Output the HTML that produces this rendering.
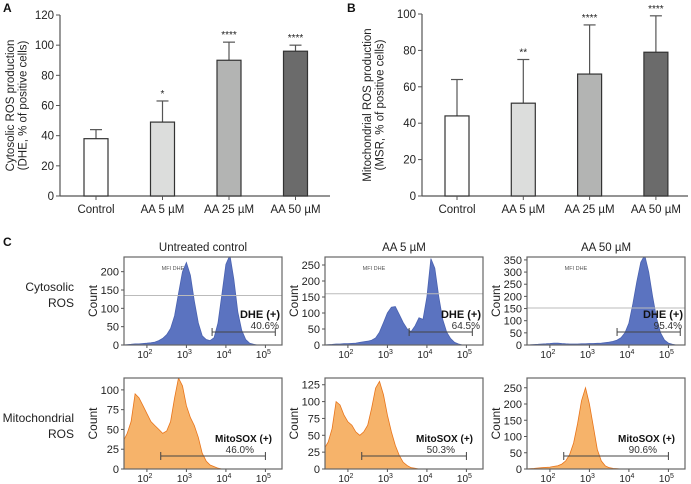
<!DOCTYPE html>
<html><head><meta charset="utf-8"><style>
body{margin:0;background:#fff;}
svg{display:block;font-family:"Liberation Sans",sans-serif;}
</style></head><body>
<svg id="fig" width="691" height="484" viewBox="0 0 691 484"></svg>
<script>
const barCategories=["Control","AA 5 \u00b5M","AA 25 \u00b5M","AA 50 \u00b5M"];
const cytoMeans=[38,49,90,96];
const cytoErr=[6,14,12,4];
const cytoStars=["","*","****","****"];
const cytoTicks=[0,20,40,60,80,100,120];
const mitoMeans=[44,51,67,79];
const mitoErr=[20,24,27,20];
const mitoStars=["","**","****","****"];
const mitoTicks=[0,20,40,60,80,100];
const histBins=[1.4,1.5,1.6,1.7,1.8,1.9,2.0,2.1,2.2,2.3,2.4,2.5,2.6,2.7,2.8,2.9,3.0,3.1,3.2,3.3,3.4,3.5,3.6,3.7,3.8,3.9,4.0,4.1,4.2,4.3,4.4,4.5,4.6,4.7,4.8,4.9,5.0,5.1,5.2,5.3,5.4];
const dheControl=[0,1,2,3,3,4,5,6,8,12,18,28,45,80,140,200,225,190,120,60,25,15,12,20,60,140,220,245,180,90,40,15,5,2,0,0,0,0,0,0,0];
const dheAA5=[0,1,2,3,3,4,4,5,6,8,10,12,15,22,40,70,100,118,120,95,70,50,42,60,85,80,150,270,240,150,80,40,20,8,3,0,0,0,0,0,0];
const dheAA50=[0,1,2,3,4,5,6,8,8,6,5,4,4,4,5,5,6,6,7,8,10,12,15,20,30,50,90,170,260,340,370,300,200,110,50,20,8,3,0,0,0];
const msrControl=[35,45,60,95,90,80,70,60,55,50,45,48,60,90,115,105,80,65,55,40,20,10,5,3,1,0,0,0,0,0,0,0,0,0,0,0,0,0,0,0,0];
const msrAA5=[30,40,60,100,95,80,70,65,55,50,55,65,90,120,130,110,80,55,35,20,10,5,2,1,0,0,0,0,0,0,0,0,0,0,0,0,0,0,0,0,0];
const msrAA50=[0,1,2,3,4,5,6,8,10,15,25,45,80,140,210,250,200,130,60,25,10,4,2,1,0,0,0,0,0,0,0,0,0,0,0,0,0,0,0,0,0];
const dheTicks=[[0,50,100,150,200],[0,50,100,150,200,250],[0,50,100,150,200,250,300,350]];
const dheMax=[240,275,362];
const dheLine=[135,160,152];
const dhePct=["40.6%","64.5%","95.4%"];
const msrTicks=[[0,25,50,75,100],[0,25,50,75,100,125],[0,50,100,150,200,250]];
const msrMax=[115,135,280];
const msrPct=["46.0%","50.3%","90.6%"];
const colTitles=["Untreated control","AA 5 \u00b5M","AA 50 \u00b5M"];
const logTicks=[2,3,4,5];

const NS="http://www.w3.org/2000/svg";
const svg=document.getElementById('fig');
function el(tag,attrs,parent,text){const e=document.createElementNS(NS,tag);for(const k in attrs)e.setAttribute(k,attrs[k]);if(text!==undefined)e.textContent=text;(parent||svg).appendChild(e);return e;}

function barChart(o){
  const g=el('g',{});
  
  
  const y=v=>o.y0-(v/o.ymax)*(o.y0-o.ytop);
  const xc=i=>o.centers[0]+i*(o.centers[1]-o.centers[0]);
  el('line',{x1:o.ax,y1:y(o.ymax),x2:o.ax,y2:o.y0,stroke:'#555','stroke-width':1.2},g);
  el('line',{x1:o.ax,y1:o.y0,x2:o.xend,y2:o.y0,stroke:'#555','stroke-width':1.2},g);
  o.ticks.forEach(t=>{
    el('line',{x1:o.ax-4,y1:y(t),x2:o.ax,y2:y(t),stroke:'#555'},g);
    const tx=el('text',{x:o.ax-6,y:y(t)+4,'font-size':11.5,'text-anchor':'end',fill:'#222'},g,t);
    
    
  });
  o.means.forEach((m,i)=>{
    const cx=xc(i),w=24;
    const top=y(m+o.err[i]);
    el('line',{x1:cx,y1:y(m),x2:cx,y2:top,stroke:'#555','stroke-width':1.2},g);
    el('line',{x1:cx-6,y1:top,x2:cx+6,y2:top,stroke:'#555','stroke-width':1.2},g);
    const r=el('rect',{x:cx-w/2,y:y(m),width:w,height:o.y0-y(m),fill:o.fills[i],stroke:'#333','stroke-width':1.2},g);
    
    
    el('line',{x1:cx,y1:o.y0,x2:cx,y2:o.y0+4,stroke:'#555'},g);
    const lb=el('text',{x:cx,y:o.y0+17,'font-size':11.5,'text-anchor':'middle',fill:'#222'},g,barCategories[i]);
    
    
    if(o.stars[i]){const s=el('text',{x:cx,y:top-4,'font-size':10,'text-anchor':'middle',fill:'#222'},g,o.stars[i]);
      
      }
  });
  const mid=(o.y0+o.ytop)/2;
  const t=el('text',{transform:`translate(${o.titleX},${mid}) rotate(-90)`,'font-size':11.5,'text-anchor':'middle',fill:'#222'},g);
  
  
  el('tspan',{x:0,dy:0},t,o.title1);
  el('tspan',{x:0,dy:12.5},t,o.title2);
  const L=el('text',{x:o.lx,y:12,'font-size':12,'font-weight':'bold',fill:'#111'},g,o.letter);
  
  
}
const fills=['#fff','#dcdddc','#b3b4b3','#6b6b6b'];
barChart({name:'chart-a-cytosolic',ax:60,y0:196,ytop:15,ymax:120,centers:[96,162.5],xend:330,ticks:cytoTicks,means:cytoMeans,err:cytoErr,stars:cytoStars,fills,titleX:14,title1:'Cytosolic ROS production',title2:'(DHE, % of positive cells)',letter:'A',lx:3});
barChart({name:'chart-b-mitochondrial',ax:422,y0:196,ytop:14,ymax:100,centers:[457,523.3],xend:688,ticks:mitoTicks,means:mitoMeans,err:mitoErr,stars:mitoStars,fills,titleX:371,title1:'Mitochondrial ROS production',title2:'(MSR, % of positive cells)',letter:'B',lx:347});

const C=el('text',{x:3,y:246,'font-size':12,'font-weight':'bold',fill:'#111'},svg,'C');



function hist(o){
  const g=el('g',{});
  
  
  const W=158,lmin=1.42,lmax=5.42;
  const x=l=>o.left+(l-lmin)/(lmax-lmin)*W;
  const y=v=>o.bottom-Math.min(v,o.ymax*1.02)/o.ymax*(o.bottom-o.top);
  let d=`M${x(histBins[0])},${o.bottom}`;
  histBins.forEach((b,i)=>{d+=` L${x(b).toFixed(1)},${y(o.data[i]).toFixed(1)}`;});
  d+=` L${x(histBins[histBins.length-1])},${o.bottom} Z`;
  const cp=el('clipPath',{id:'c'+o.name},g);
  el('rect',{x:o.left,y:o.top,width:W,height:o.bottom-o.top},cp);
  const p=el('path',{d,fill:o.fill,stroke:o.stroke,'stroke-width':0.8,'clip-path':`url(#c${o.name})`},g);
  
  
  if(o.line!==undefined){
    el('line',{x1:o.left,x2:o.left+W,y1:y(o.line),y2:y(o.line),stroke:'#bbb','stroke-width':1},g);
    el('text',{x:o.left+W*0.31,y:o.top+13,'font-size':5.5,fill:'#555','text-anchor':'middle'},g,'MFI DHE');
  }
  el('rect',{x:o.left,y:o.top,width:W,height:o.bottom-o.top,fill:'none',stroke:'#666','stroke-width':1.2},g);
  o.ticks.forEach(t=>{
    el('line',{x1:o.left-3,x2:o.left,y1:y(t),y2:y(t),stroke:'#555'},g);
    el('text',{x:o.left-5,y:y(t)+4,'font-size':11,'text-anchor':'end',fill:'#222'},g,t);
  });
  logTicks.forEach(t=>{
    el('line',{x1:x(t),x2:x(t),y1:o.bottom,y2:o.bottom+3,stroke:'#555'},g);
    const tx=el('text',{x:x(t)-2,y:o.bottom+13,'font-size':10,'text-anchor':'middle',fill:'#222'},g,'10');
    el('tspan',{dy:-4,'font-size':7},tx,String(t));
  });
  const ct=el('text',{transform:`translate(${o.left-27},${(o.top+o.bottom)/2}) rotate(-90)`,'font-size':12,'text-anchor':'middle',fill:'#222'},g,'Count');
  
  
  const gy=o.gateY;
  el('line',{x1:x(o.gate[0]),x2:x(o.gate[1]),y1:gy,y2:gy,stroke:'#444','stroke-width':1},g);
  el('line',{x1:x(o.gate[0]),x2:x(o.gate[0]),y1:gy-4,y2:gy+4,stroke:'#444'},g);
  el('line',{x1:x(o.gate[1]),x2:x(o.gate[1]),y1:gy-4,y2:gy+4,stroke:'#444'},g);
  el('text',{x:o.lblX,y:gy-14,'font-size':o.lblSize,'font-weight':'bold','text-anchor':'end',fill:'#111'},g,o.label);
  el('text',{x:o.pctX,y:gy-3,'font-size':10,'text-anchor':'end',fill:'#333'},g,o.pct);
  if(o.title){const tt=el('text',{x:o.left+W/2,y:o.top-6,'font-size':11.5,'text-anchor':'middle',fill:'#222'},g,o.title);
    
    }
}
const lefts=[124,325,527];
const dheData=[dheControl,dheAA5,dheAA50];
const msrData=[msrControl,msrAA5,msrAA50];
const dheGates=[[3.65,5.25],[3.55,5.15],[3.7,5.3]];
lefts.forEach((L,i)=>{
  hist({name:'dhe-histogram-'+i,left:L,top:257,bottom:345,data:dheData[i],ymax:dheMax[i],ticks:dheTicks[i],fill:'#5b73c0',stroke:'#4a62b0',line:dheLine[i],gate:dheGates[i],gateY:332,label:'DHE (+)',lblSize:11,lblX:L+156,pct:dhePct[i],pctX:L+155,title:colTitles[i]});
  hist({name:'msr-histogram-'+i,left:L,top:378,bottom:469,data:msrData[i],ymax:msrMax[i],ticks:msrTicks[i],fill:'#f6b36a',stroke:'#e8741a',gate:[2.35,5.0],gateY:456,label:'MitoSOX (+)',lblSize:10,lblX:L+148,pct:msrPct[i],pctX:L+130});
});
[['Cytosolic',291],['ROS',307],['Mitochondrial',422],['ROS',438]].forEach(([t,yy])=>{
  const r=el('text',{x:74,y:yy,'font-size':12,'text-anchor':'end',fill:'#222'},svg,t);
  
  
});
</script>
</body></html>
